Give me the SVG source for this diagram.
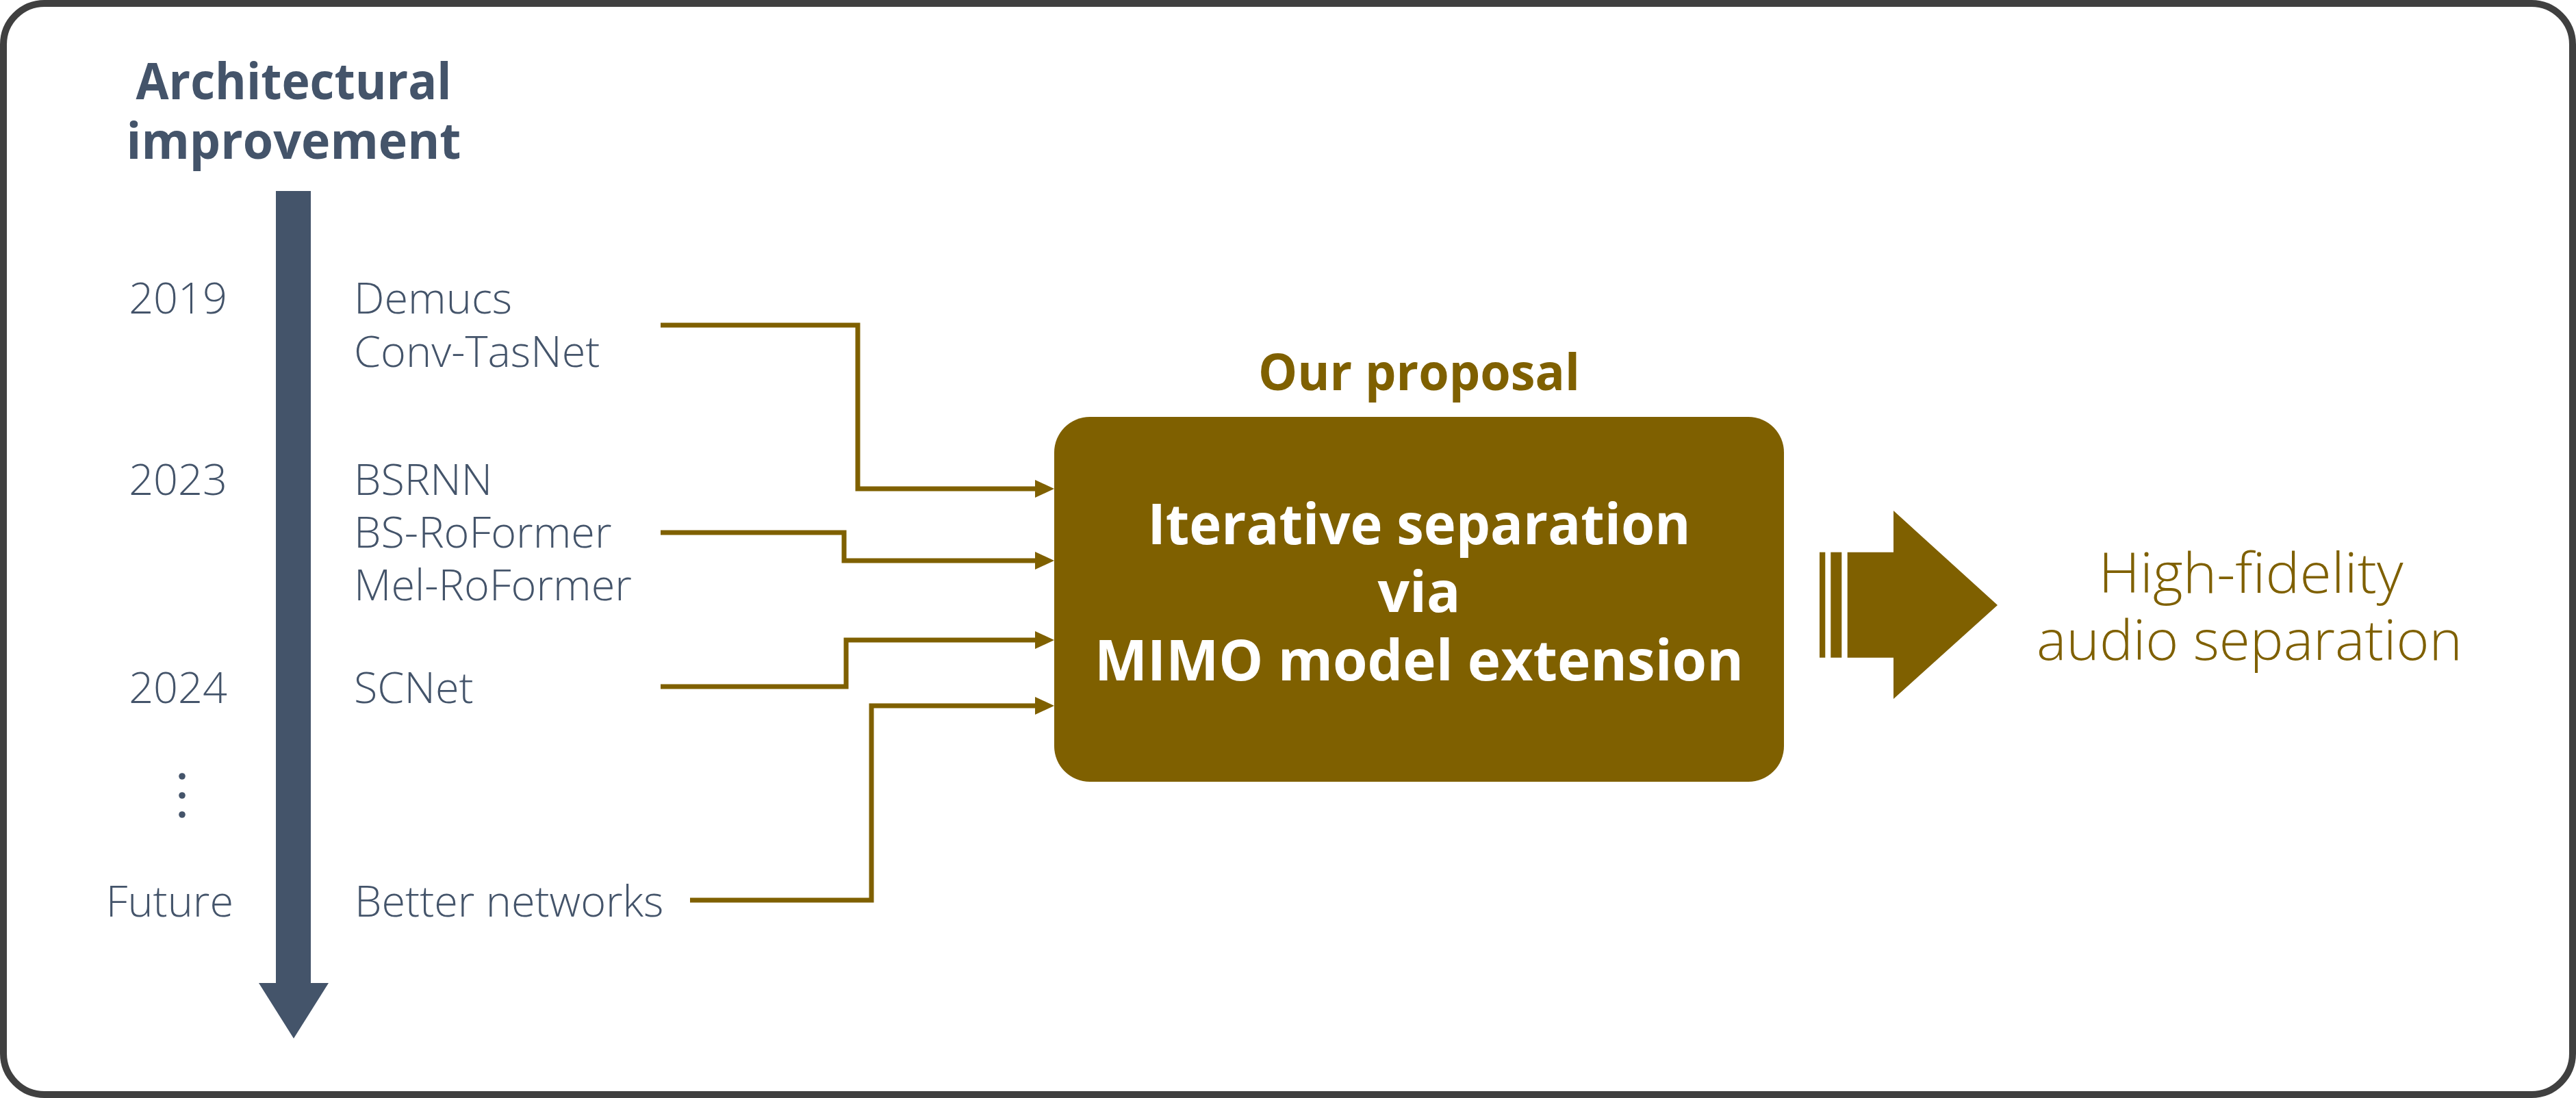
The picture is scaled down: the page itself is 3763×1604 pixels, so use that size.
<svg xmlns="http://www.w3.org/2000/svg" width="3763" height="1604" viewBox="0 0 3763 1604">
  <style>
    .head { font-family: "Open Sans", "Noto Sans", "Liberation Sans", sans-serif; font-weight: 700; font-size: 73px; }
    .slate { fill: #44546a; }
    .gold { fill: #7f6000; }
    .lt { font-family: "Open Sans", "Noto Sans", "Liberation Sans", sans-serif; font-weight: 300; font-size: 63px; }
    .box-t { font-family: "Open Sans", "Noto Sans", "Liberation Sans", sans-serif; font-weight: 700; font-size: 82px; fill: #ffffff; }
    .out { font-family: "Open Sans", "Noto Sans", "Liberation Sans", sans-serif; font-weight: 300; font-size: 82px; fill: #7f6000; }
    .conn { fill: none; stroke: #7f6000; stroke-width: 7; marker-end: url(#ah); }
  </style>
  <defs>
    <marker id="ah" markerUnits="userSpaceOnUse" markerWidth="28" markerHeight="26" refX="0" refY="13" orient="auto" viewBox="0 0 28 26">
      <path d="M0,0 L28,13 L0,26 z" fill="#7f6000"/>
    </marker>
  </defs>

  <rect x="0" y="0" width="3763" height="1604" fill="#ffffff"/>
  <rect id="frame" x="5" y="5" width="3753" height="1594" rx="60" ry="60" fill="#ffffff" stroke="#404040" stroke-width="10"/>

  <g id="timeline">
    <text class="head slate" x="429" y="145" text-anchor="middle" textLength="461" lengthAdjust="spacingAndGlyphs">Architectural</text>
    <text class="head slate" x="429" y="232" text-anchor="middle" textLength="489" lengthAdjust="spacingAndGlyphs">improvement</text>
    <path d="M403,279 H454 V1436 H480 L429,1517 L378,1436 H403 Z" fill="#44546a"/>
  </g>

  <g id="years">
    <text class="lt slate" x="332" y="458" text-anchor="end">2019</text>
    <text class="lt slate" x="332" y="723" text-anchor="end">2023</text>
    <text class="lt slate" x="332" y="1027" text-anchor="end">2024</text>
    <circle cx="266" cy="1134" r="4.8" fill="#44546a"/>
    <circle cx="266" cy="1162" r="4.8" fill="#44546a"/>
    <circle cx="266" cy="1190" r="4.8" fill="#44546a"/>
    <text class="lt slate" x="341" y="1339" text-anchor="end">Future</text>
  </g>

  <g id="node-2019">
    <text class="lt slate" x="517" y="458">Demucs</text>
    <text class="lt slate" x="517" y="536">Conv-TasNet</text>
  </g>
  <g id="node-2023">
    <text class="lt slate" x="517" y="723">BSRNN</text>
    <text class="lt slate" x="517" y="800">BS-RoFormer</text>
    <text class="lt slate" x="517" y="877">Mel-RoFormer</text>
  </g>
  <g id="node-2024">
    <text class="lt slate" x="517" y="1027">SCNet</text>
  </g>
  <g id="node-future">
    <text class="lt slate" x="518" y="1339">Better networks</text>
  </g>

  <g id="connectors">
    <path class="conn" d="M965,475 H1253 V714 H1512"/>
    <path class="conn" d="M965,778 H1233 V819 H1512"/>
    <path class="conn" d="M965,1003 H1236 V935 H1512"/>
    <path class="conn" d="M1008,1315 H1273 V1031 H1512"/>
  </g>

  <g id="proposal">
    <text class="head gold" x="2073" y="570" text-anchor="middle" textLength="470" lengthAdjust="spacingAndGlyphs">Our proposal</text>
    <rect x="1540" y="609" width="1066" height="533" rx="52" ry="52" fill="#7f6000"/>
    <text class="box-t" x="2073" y="795" text-anchor="middle" textLength="793" lengthAdjust="spacingAndGlyphs">Iterative separation</text>
    <text class="box-t" x="2073" y="894" text-anchor="middle">via</text>
    <text class="box-t" x="2073" y="994" text-anchor="middle" textLength="948" lengthAdjust="spacingAndGlyphs">MIMO model extension</text>
  </g>

  <g id="big-arrow" fill="#7f6000">
    <rect x="2658" y="806.7" width="8.3" height="154"/>
    <rect x="2674.3" y="806.7" width="16" height="154"/>
    <path d="M2698.7,806.7 H2766 V746 L2918,884 L2766,1021 V960.7 H2698.7 Z"/>
  </g>

  <g id="result">
    <text class="out" x="3288" y="866" text-anchor="middle" textLength="445" lengthAdjust="spacingAndGlyphs">High-fidelity</text>
    <text class="out" x="3286" y="964" text-anchor="middle">audio separation</text>
  </g>
</svg>
